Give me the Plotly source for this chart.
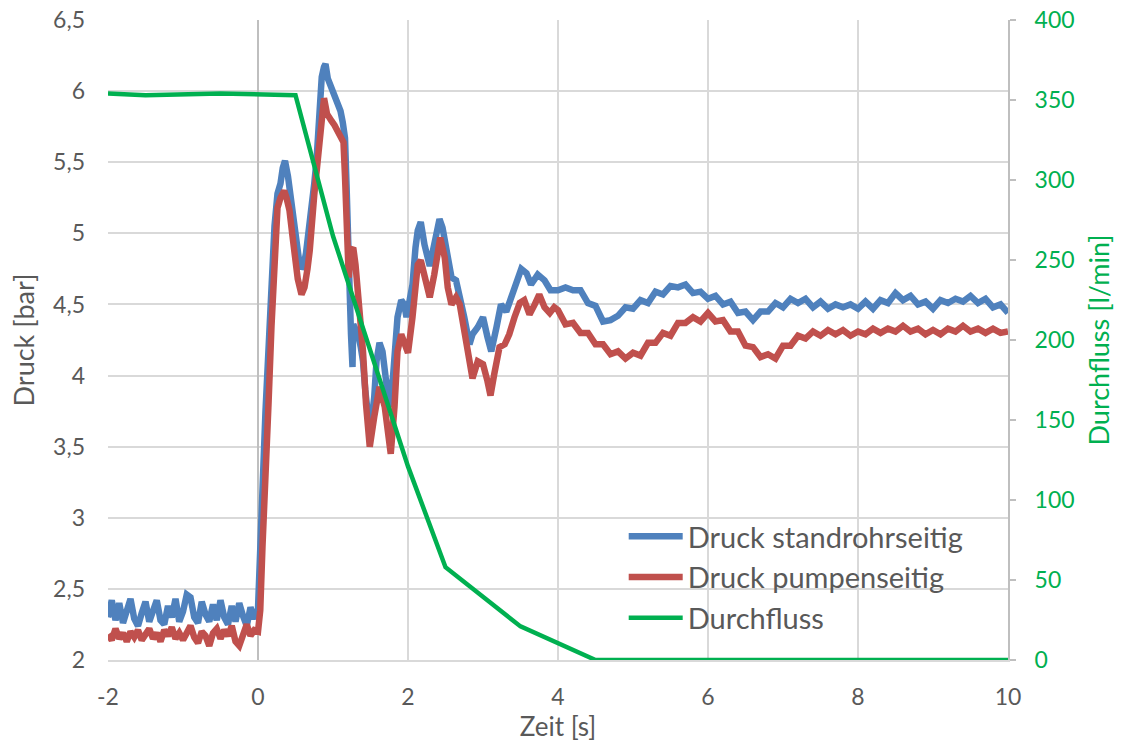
import plotly.graph_objects as go

# Zeitachse und Messwerte: Druck auf Standrohrseite
t_standrohr = [
    -2.00, -1.95, -1.90, -1.85, -1.80, -1.75, -1.70, -1.65, -1.60, -1.55,
    -1.50, -1.45, -1.40, -1.35, -1.30, -1.25, -1.20, -1.15, -1.10, -1.05,
    -1.00, -0.95, -0.90, -0.85, -0.80, -0.75, -0.70, -0.65, -0.60, -0.55,
    -0.50, -0.45, -0.40, -0.35, -0.30, -0.25, -0.20, -0.15, -0.10, -0.05,
    0.00, 0.03, 0.06, 0.10, 0.14, 0.18, 0.22, 0.26, 0.30, 0.33,
    0.36, 0.40, 0.44, 0.48, 0.51, 0.55, 0.58, 0.61, 0.64, 0.68,
    0.71, 0.75, 0.78, 0.82, 0.85, 0.88, 0.90, 0.93, 0.96, 0.99,
    1.03, 1.07, 1.10, 1.13, 1.16, 1.18, 1.20, 1.22, 1.24, 1.26,
    1.27, 1.30, 1.34, 1.37, 1.40, 1.43, 1.46, 1.51, 1.55, 1.58,
    1.62, 1.66, 1.71, 1.75, 1.80, 1.86, 1.91, 1.95, 1.98, 2.02,
    2.06, 2.10, 2.13, 2.17, 2.22, 2.29, 2.35, 2.42, 2.46, 2.51,
    2.58, 2.64, 2.69, 2.75, 2.82, 2.86, 2.93, 3.00, 3.06, 3.11,
    3.18, 3.24, 3.31, 3.38, 3.44, 3.51, 3.58, 3.64, 3.73, 3.82,
    3.90, 4.00, 4.10, 4.20, 4.30, 4.40, 4.50, 4.60, 4.70, 4.80,
    4.90, 5.00, 5.10, 5.20, 5.30, 5.40, 5.50, 5.60, 5.70, 5.80,
    5.90, 6.00, 6.10, 6.20, 6.30, 6.40, 6.50, 6.60, 6.70, 6.80,
    6.90, 7.00, 7.10, 7.20, 7.30, 7.40, 7.50, 7.60, 7.70, 7.80,
    7.90, 8.00, 8.10, 8.20, 8.30, 8.40, 8.50, 8.60, 8.70, 8.80,
    8.90, 9.00, 9.10, 9.20, 9.30, 9.40, 9.50, 9.60, 9.70, 9.80,
    9.90, 10.00,
]
p_standrohr = [
    2.30, 2.42, 2.28, 2.40, 2.26, 2.36, 2.43, 2.29, 2.24, 2.33,
    2.41, 2.27, 2.35, 2.42, 2.28, 2.25, 2.38, 2.30, 2.43, 2.27,
    2.34, 2.46, 2.44, 2.30, 2.26, 2.41, 2.32, 2.27, 2.39, 2.28,
    2.42, 2.30, 2.25, 2.38, 2.27, 2.40, 2.31, 2.24, 2.37, 2.29,
    2.36, 2.70, 3.20, 3.75, 4.15, 4.71, 5.05, 5.28, 5.35, 5.46,
    5.51, 5.40, 5.23, 5.05, 4.93, 4.80, 4.75, 4.78, 4.86, 5.02,
    5.16, 5.35, 5.51, 5.93, 6.10, 6.17, 6.19, 6.09, 6.05, 6.01,
    5.96, 5.90, 5.86, 5.78, 5.67, 5.35, 5.11, 4.64, 4.29, 4.06,
    4.36, 4.32, 4.28, 4.20, 4.10, 3.90, 3.75, 3.66, 3.85, 4.10,
    4.23, 4.17, 3.94, 3.78, 3.99, 4.41, 4.53, 4.50, 4.41, 4.53,
    4.64, 4.90, 5.02, 5.08, 4.92, 4.77, 4.92, 5.10, 5.04, 4.88,
    4.69, 4.67, 4.57, 4.41, 4.22, 4.29, 4.34, 4.41, 4.27, 4.17,
    4.34, 4.50, 4.45, 4.55, 4.64, 4.75, 4.72, 4.64, 4.71, 4.67,
    4.60, 4.60, 4.62, 4.60, 4.60, 4.51, 4.49, 4.38, 4.39, 4.42,
    4.48, 4.47, 4.53, 4.51, 4.59, 4.57, 4.63, 4.62, 4.64, 4.58,
    4.59, 4.54, 4.56, 4.50, 4.52, 4.44, 4.45, 4.39, 4.45, 4.45,
    4.51, 4.48, 4.54, 4.51, 4.54, 4.48, 4.52, 4.47, 4.50, 4.48,
    4.50, 4.47, 4.52, 4.47, 4.53, 4.51, 4.58, 4.53, 4.56, 4.50,
    4.52, 4.47, 4.53, 4.51, 4.54, 4.52, 4.56, 4.51, 4.54, 4.48,
    4.50, 4.44,
]

# Druck auf Pumpenseite
t_pumpe = [
    -2.00, -1.95, -1.90, -1.85, -1.80, -1.75, -1.70, -1.65, -1.60, -1.55,
    -1.50, -1.45, -1.40, -1.35, -1.30, -1.25, -1.20, -1.15, -1.10, -1.05,
    -1.00, -0.95, -0.90, -0.85, -0.80, -0.75, -0.70, -0.65, -0.60, -0.55,
    -0.50, -0.45, -0.40, -0.35, -0.30, -0.25, -0.20, -0.15, -0.10, -0.05,
    0.00, 0.03, 0.06, 0.10, 0.14, 0.18, 0.22, 0.26, 0.30, 0.35,
    0.38, 0.42, 0.46, 0.49, 0.53, 0.58, 0.62, 0.66, 0.69, 0.75,
    0.82, 0.86, 0.88, 0.92, 0.95, 0.98, 1.02, 1.06, 1.10, 1.14,
    1.16, 1.18, 1.21, 1.24, 1.27, 1.30, 1.33, 1.36, 1.40, 1.44,
    1.49, 1.55, 1.62, 1.69, 1.73, 1.77, 1.82, 1.86, 1.91, 1.95,
    2.00, 2.06, 2.13, 2.17, 2.22, 2.29, 2.35, 2.43, 2.49, 2.53,
    2.58, 2.64, 2.69, 2.75, 2.82, 2.86, 2.93, 3.00, 3.06, 3.10,
    3.15, 3.22, 3.29, 3.35, 3.42, 3.49, 3.55, 3.62, 3.69, 3.75,
    3.82, 3.89, 3.95, 4.00, 4.10, 4.20, 4.30, 4.40, 4.50, 4.60,
    4.70, 4.80, 4.90, 5.00, 5.10, 5.20, 5.30, 5.40, 5.50, 5.60,
    5.70, 5.80, 5.90, 6.00, 6.10, 6.20, 6.30, 6.40, 6.50, 6.60,
    6.70, 6.80, 6.90, 7.00, 7.10, 7.20, 7.30, 7.40, 7.50, 7.60,
    7.70, 7.80, 7.90, 8.00, 8.10, 8.20, 8.30, 8.40, 8.50, 8.60,
    8.70, 8.80, 8.90, 9.00, 9.10, 9.20, 9.30, 9.40, 9.50, 9.60,
    9.70, 9.80, 9.90, 10.00,
]
p_pumpe = [
    2.18, 2.14, 2.22, 2.15, 2.19, 2.13, 2.20, 2.16, 2.21, 2.14,
    2.18, 2.22, 2.15, 2.19, 2.13, 2.21, 2.17, 2.23, 2.15, 2.19,
    2.14, 2.20, 2.24, 2.16, 2.12, 2.20, 2.17, 2.10, 2.19, 2.22,
    2.15, 2.21, 2.17, 2.24, 2.13, 2.10, 2.19, 2.25, 2.17, 2.21,
    2.20, 2.35, 2.80, 3.21, 3.80, 4.35, 4.85, 5.18, 5.25, 5.30,
    5.25, 5.16, 4.98, 4.83, 4.68, 4.57, 4.62, 4.75, 4.88, 5.27,
    5.70, 5.88, 5.95, 5.84, 5.80, 5.79, 5.76, 5.72, 5.68, 5.64,
    5.40, 5.11, 4.69, 4.88, 4.90, 4.78, 4.60, 4.45, 4.17, 3.80,
    3.50, 3.71, 3.92, 3.78, 3.57, 3.45, 3.78, 4.17, 4.29, 4.23,
    4.16, 4.41, 4.78, 4.81, 4.69, 4.55, 4.71, 4.97, 4.83, 4.62,
    4.50, 4.55, 4.50, 4.29, 4.06, 3.98, 4.10, 4.08, 3.96, 3.86,
    4.01, 4.20, 4.22, 4.29, 4.41, 4.51, 4.53, 4.43, 4.50, 4.57,
    4.48, 4.44, 4.48, 4.46, 4.36, 4.37, 4.30, 4.30, 4.22, 4.22,
    4.15, 4.17, 4.12, 4.16, 4.14, 4.23, 4.23, 4.30, 4.28, 4.37,
    4.37, 4.41, 4.38, 4.44, 4.38, 4.39, 4.31, 4.31, 4.21, 4.20,
    4.13, 4.15, 4.12, 4.21, 4.21, 4.28, 4.26, 4.31, 4.28, 4.32,
    4.29, 4.32, 4.28, 4.31, 4.29, 4.33, 4.30, 4.33, 4.31, 4.35,
    4.31, 4.33, 4.29, 4.32, 4.29, 4.33, 4.31, 4.35, 4.31, 4.33,
    4.30, 4.33, 4.30, 4.31,
]

# Durchfluss in l/min
t_durchfluss = [-2.0, -1.5, -0.5, 0.5, 1.0, 1.5, 2.0, 2.5, 3.5, 4.5, 10.0]
q_durchfluss = [354, 353, 354, 353, 265, 192, 121, 58, 21, 0, 0]

x_ticks = [-2, 0, 2, 4, 6, 8, 10]
x_tick_labels = ["-2", "0", "2", "4", "6", "8", "10"]

GRAU = "#595959"
GRUEN = "#00b050"
FONT = "Lato"

fig = go.Figure()
fig.add_trace(go.Scatter(
    x=t_standrohr, y=p_standrohr, mode="lines", name="Druck standrohrseitig",
    line=dict(color="#4f81bd", width=6.5), legendgroup="a",
))
fig.add_trace(go.Scatter(
    x=t_pumpe, y=p_pumpe, mode="lines", name="Druck pumpenseitig",
    line=dict(color="#c0504d", width=6.5), legendgroup="b",
))
fig.add_trace(go.Scatter(
    x=t_durchfluss, y=q_durchfluss, mode="lines", name="Durchfluss",
    line=dict(color=GRUEN, width=4.5), yaxis="y2", legendgroup="c",
))

fig.update_layout(
    width=1121, height=742,
    margin=dict(l=108, r=113, t=20, b=82),
    paper_bgcolor="white", plot_bgcolor="white",
    separators=", ",
    font=dict(family=FONT, color=GRAU, size=22),
    xaxis=dict(
        range=[-2, 10], tickmode="array", tickvals=x_ticks, ticktext=x_tick_labels,
        showgrid=True, gridcolor="#d9d9d9", gridwidth=2,
        zeroline=True, zerolinecolor="#bfbfbf", zerolinewidth=2,
        showline=True, linecolor="#d9d9d9", linewidth=2,
        ticks="", ticklabelstandoff=15, automargin=False,
        tickfont=dict(family=FONT, size=23, color=GRAU),
        title=dict(text="Zeit [s]", font=dict(family=FONT, size=26, color=GRAU), standoff=4),
    ),
    yaxis=dict(
        range=[2, 6.5], dtick=0.5, tick0=2,
        showgrid=True, gridcolor="#d9d9d9", gridwidth=2,
        zeroline=False, showline=False, ticks="", ticklabelstandoff=22,
        automargin=False,
        tickfont=dict(family=FONT, size=23, color=GRAU),
        title=dict(text="Druck [bar]", font=dict(family=FONT, size=27, color=GRAU), standoff=10),
    ),
    yaxis2=dict(
        range=[0, 400], dtick=50, tick0=0, overlaying="y", side="right",
        showgrid=False, zeroline=False,
        showline=True, linecolor="#bfbfbf", linewidth=2,
        ticks="outside", ticklen=6, tickcolor="#bfbfbf", tickwidth=2,
        ticklabelstandoff=14, automargin=False,
        tickfont=dict(family=FONT, size=23, color=GRUEN),
        title=dict(text="Durchfluss [l/min]", font=dict(family=FONT, size=27, color=GRUEN), standoff=16),
    ),
    legend=dict(
        x=0.573, y=0.233, xanchor="left", yanchor="top",
        bgcolor="rgba(0,0,0,0)", font=dict(family=FONT, size=29, color=GRAU),
        traceorder="grouped", tracegroupgap=0, itemwidth=54,
    ),
    showlegend=True,
)

fig.write_html("out.html")
